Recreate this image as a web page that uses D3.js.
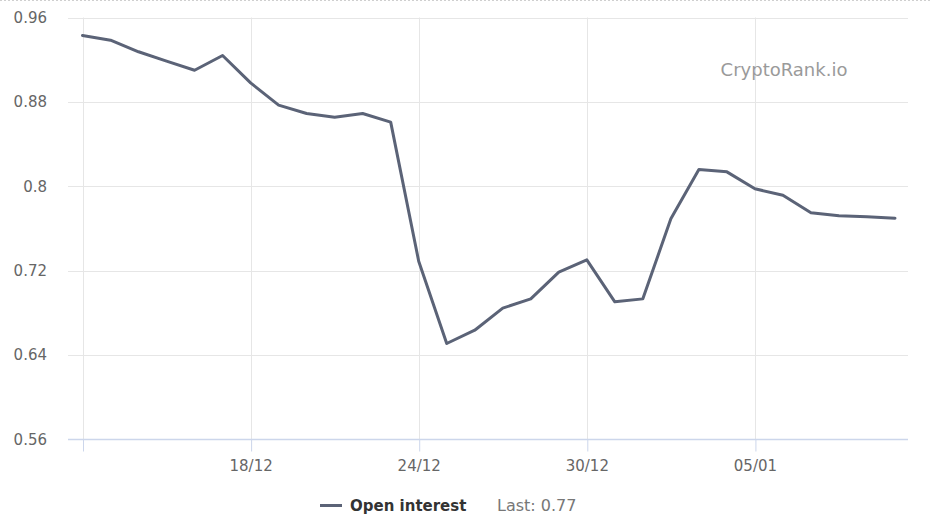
<!DOCTYPE html>
<html>
<head>
<meta charset="utf-8">
<script src="https://cdn.jsdelivr.net/npm/d3@7"></script>
<style>
html,body{margin:0;padding:0;background:#fff;}
svg{display:block;}
</style>
</head>
<body>
<svg id="chart" width="931" height="527"></svg>
<script>
const dates = ["2023-12-12","2023-12-13","2023-12-14","2023-12-15","2023-12-16","2023-12-17","2023-12-18","2023-12-19","2023-12-20","2023-12-21","2023-12-22","2023-12-23","2023-12-24","2023-12-25","2023-12-26","2023-12-27","2023-12-28","2023-12-29","2023-12-30","2023-12-31","2024-01-01","2024-01-02","2024-01-03","2024-01-04","2024-01-05","2024-01-06","2024-01-07","2024-01-08","2024-01-09","2024-01-10"];
const openInterest = [0.943,0.9385,0.9275,0.9186,0.910,0.924,0.898,0.877,0.869,0.8655,0.869,0.8608,0.729,0.651,0.6636,0.6845,0.6933,0.7186,0.7303,0.6905,0.6933,0.7692,0.816,0.8137,0.7976,0.7916,0.7749,0.772,0.7711,0.7698];
const yTicks = [0.56,0.64,0.72,0.8,0.88,0.96];
const xTickDates = ["2023-12-12","2023-12-18","2023-12-24","2023-12-30","2024-01-05"];
const xTickLabels = ["","18/12","24/12","30/12","05/01"];
const seriesName = "Open interest";
const lastLabel = "Last: 0.77";
const watermark = "CryptoRank.io";

const parse = d3.utcParse("%Y-%m-%d");
const data = dates.map((d,i)=>({date:parse(d), v:openInterest[i]}));

const svg = d3.select("#chart");
const W = 931, H = 527;
const plotL = 68, plotR = 908, plotT = 17.5, plotB = 439.5;
const font = "'DejaVu Sans', Verdana, sans-serif";

// top dotted border
svg.append("line").attr("x1",0).attr("x2",W).attr("y1",0.5).attr("y2",0.5)
  .attr("stroke","#cfcfcf").attr("stroke-dasharray","2,2");

const x = d3.scaleUtc().domain([parse(dates[0]), parse(dates[dates.length-1])]).range([82.5, 895]);
const y = d3.scaleLinear().domain([0.56,0.96]).range([plotB, plotT]);

// horizontal grid
const gy = svg.append("g");
gy.selectAll("line").data(yTicks.filter(t=>t!==0.56)).join("line")
  .attr("x1",plotL).attr("x2",plotR)
  .attr("y1",d=>Math.round(y(d))+0.5).attr("y2",d=>Math.round(y(d))+0.5)
  .attr("stroke","#e6e6e6").attr("stroke-width",1);

// vertical grid
const xt = xTickDates.map(parse);
svg.append("g").selectAll("line").data(xt).join("line")
  .attr("x1",d=>Math.round(x(d))+0.5).attr("x2",d=>Math.round(x(d))+0.5)
  .attr("y1",plotT).attr("y2",plotB)
  .attr("stroke","#e6e6e6").attr("stroke-width",1);

// x axis
const xAxis = d3.axisBottom(x).tickValues(xt)
  .tickFormat((d,i)=>xTickLabels[i]).tickSize(12).tickPadding(6);
const gx = svg.append("g").attr("transform",`translate(0,${plotB})`).call(xAxis);
gx.select(".domain").remove();
gx.selectAll(".tick line").attr("stroke","#ccd6eb").attr("transform","translate(0.5,0)");
gx.selectAll(".tick text").attr("fill","#666666").attr("font-family",font).attr("font-size","15px").attr("dy","0.9em");
svg.append("line").attr("x1",plotL).attr("x2",plotR).attr("y1",plotB).attr("y2",plotB)
  .attr("stroke","#ccd6eb").attr("stroke-width",1.5);

// y axis labels
const yAxis = d3.axisLeft(y).tickValues(yTicks).tickFormat(d=>String(+d.toFixed(2))).tickSize(0).tickPadding(0);
const gya = svg.append("g").attr("transform",`translate(47,0)`).call(yAxis);
gya.select(".domain").remove();
gya.selectAll(".tick text").attr("fill","#666666").attr("font-family",font).attr("font-size","15px");

// watermark
svg.append("text").attr("x",784).attr("y",76).attr("text-anchor","middle")
  .attr("font-family",font).attr("font-size","18px").attr("fill","#9a9a9a").text(watermark);

// line
const line = d3.line().x(d=>x(d.date)).y(d=>y(d.v));
svg.append("path").datum(data).attr("d",line)
  .attr("fill","none").attr("stroke","#5b6377").attr("stroke-width",3)
  .attr("stroke-linejoin","round").attr("stroke-linecap","round");

// legend
const lg = svg.append("g");
lg.append("line").attr("x1",320).attr("x2",342).attr("y1",505.5).attr("y2",505.5)
  .attr("stroke","#5b6377").attr("stroke-width",3);
lg.append("text").attr("x",350).attr("y",511).attr("font-family",font).attr("font-weight","bold")
  .attr("font-size","15px").attr("fill","#333333").text(seriesName);
lg.append("text").attr("x",497).attr("y",511).attr("font-family",font)
  .attr("font-size","16px").attr("fill","#777777").text(lastLabel);
</script>
</body>
</html>
